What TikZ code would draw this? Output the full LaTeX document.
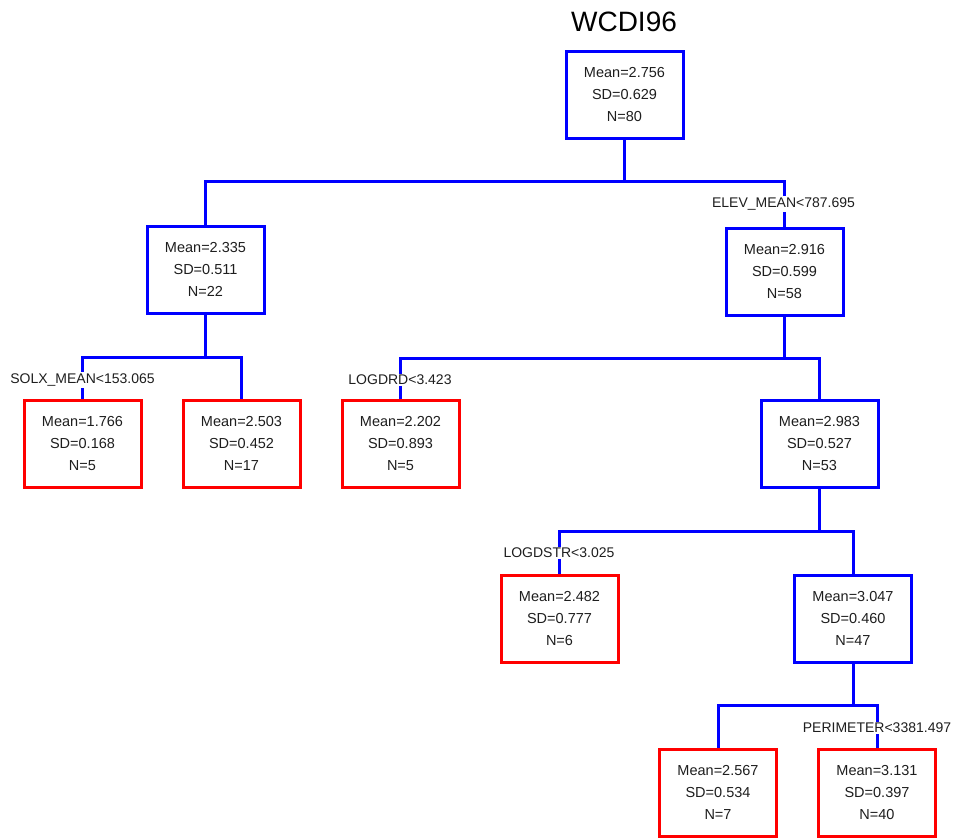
\documentclass[tikz,border=0pt]{standalone}
\usepackage{fontspec}
\setmainfont{Liberation Sans}
\definecolor{treeblue}{RGB}{0,0,255}
\definecolor{leafred}{RGB}{255,0,0}
\definecolor{txt}{RGB}{30,30,30}
\begin{document}
\begin{tikzpicture}[x=1pt,y=-1pt,
  inner/.style={draw=treeblue,line width=3pt,fill=white,minimum width=117pt,minimum height=87pt,
    align=center,text=txt,font=\fontsize{14.5}{22}\selectfont,inner sep=0pt},
  leaf/.style={inner,draw=leafred},
  conn/.style={draw=treeblue,line width=3pt},
  splitlabel/.style={fill=white,text=txt,inner sep=1.5pt,font=\fontsize{14}{16}\selectfont},
  titlestyle/.style={font=\fontsize{28}{32}\selectfont,inner sep=0pt}]
\useasboundingbox (0,0) rectangle (954,838);
\node[titlestyle] (title) at (624,22) {WCDI96};
% nodes
\node[inner] (root) at (624.5,94.5) {Mean=2.756\\SD=0.629\\N=80};
\node[inner] (n2) at (205.5,269.5) {Mean=2.335\\SD=0.511\\N=22};
\node[inner] (n3) at (784.5,271.5) {Mean=2.916\\SD=0.599\\N=58};
\node[leaf] (n4) at (82.5,443.5) {Mean=1.766\\SD=0.168\\N=5};
\node[leaf] (n5) at (241.5,443.5) {Mean=2.503\\SD=0.452\\N=17};
\node[leaf] (n6) at (400.5,443.5) {Mean=2.202\\SD=0.893\\N=5};
\node[inner] (n7) at (819.5,443.5) {Mean=2.983\\SD=0.527\\N=53};
\node[leaf] (n8) at (559.5,618.5) {Mean=2.482\\SD=0.777\\N=6};
\node[inner] (n9) at (853,618.5) {Mean=3.047\\SD=0.460\\N=47};
\node[leaf] (n10) at (718,792.5) {Mean=2.567\\SD=0.534\\N=7};
\node[leaf] (n11) at (877,792.5) {Mean=3.131\\SD=0.397\\N=40};
% junctions
\coordinate (j1) at (624.5,181.5);
\coordinate (j2) at (205.5,357.5);
\coordinate (j3) at (784.5,358);
\coordinate (j4) at (819.5,531);
\coordinate (j5) at (853,705);
% connectors
\draw[conn] (root.south) -- (j1);
\draw[conn] (n2.north) |- (j1) -| (n3.north);
\draw[conn] (n2.south) -- (j2);
\draw[conn] (n4.north) |- (j2) -| (n5.north);
\draw[conn] (n3.south) -- (j3);
\draw[conn] (n6.north) |- (j3) -| (n7.north);
\draw[conn] (n7.south) -- (j4);
\draw[conn] (n8.north) |- (j4) -| (n9.north);
\draw[conn] (n9.south) -- (j5);
\draw[conn] (n10.north) |- (j5) -| (n11.north);
% split labels
\node[splitlabel] (l1) at (783.5,204) {ELEV\_MEAN<787.695};
\node[splitlabel] (l2) at (82.5,380) {SOLX\_MEAN<153.065};
\node[splitlabel] (l3) at (400,380) {LOGDRD<3.423};
\node[splitlabel] (l4) at (559,553) {LOGDSTR<3.025};
\node[splitlabel] (l5) at (877,728) {PERIMETER<3381.497};
\end{tikzpicture}
\end{document}
